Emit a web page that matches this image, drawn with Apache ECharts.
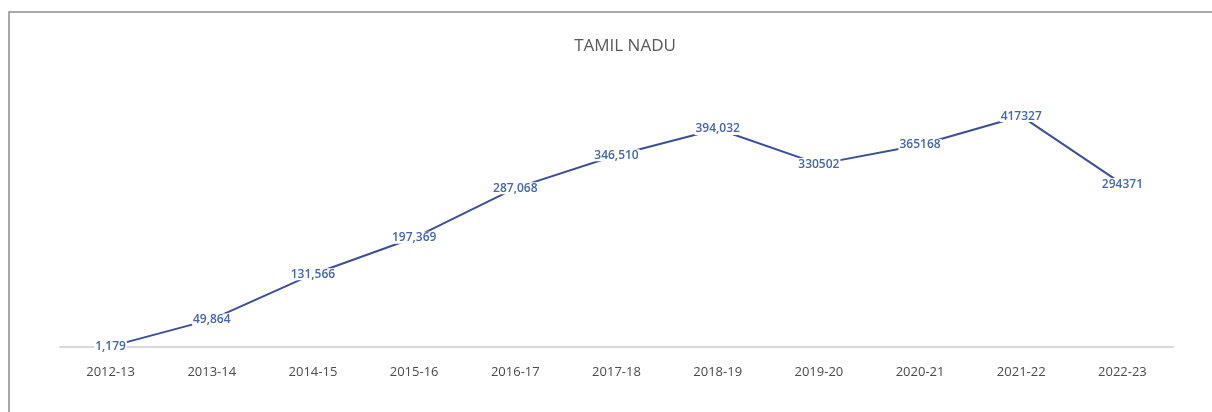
<!DOCTYPE html>
<html>
<head>
<meta charset="utf-8">
<script src="https://cdn.jsdelivr.net/npm/echarts@6/dist/echarts.min.js"></script>
<style>
html,body{margin:0;padding:0;background:#fff;}
#chart{width:1212px;height:412px;}
</style>
</head>
<body>
<div id="chart"></div>
<script>
const categories = ["2012-13","2013-14","2014-15","2015-16","2016-17","2017-18","2018-19","2019-20","2020-21","2021-22","2022-23"];
const values = [1179, 49864, 131566, 197369, 287068, 346510, 394032, 330502, 365168, 417327, 294371];
const labelTexts = ["1,179","49,864","131,566","197,369","287,068","346,510","394,032","330502","365168","417327","294371"];
const chartTitle = "TAMIL NADU";

const chart = echarts.init(document.getElementById('chart'), null, {renderer:'canvas'});
chart.setOption({
  backgroundColor: '#ffffff',
  animation: false,
  title: {
    text: chartTitle,
    left: 620, top: 33,
    textAlign: 'center',
    textStyle: {fontFamily: 'Open Sans', fontSize: 17, fontWeight: 'normal', color: '#595959'}
  },
  graphic: [{
    type: 'rect', silent: true, z: -1,
    shape: {x: 9, y: 12, width: 1230, height: 430},
    style: {fill: 'none', stroke: '#8c8c8c', lineWidth: 1.5}
  }],
  grid: {left: 60, right: 39, top: 98, bottom: 65},
  xAxis: {
    type: 'category',
    data: categories,
    boundaryGap: true,
    axisLine: {lineStyle: {color: '#d9d9d9', width: 2}},
    axisTick: {show: false},
    axisLabel: {margin: 19, fontFamily: 'Open Sans', fontSize: 13, color: '#4a4a4a'}
  },
  yAxis: {
    type: 'value', min: 0, max: 450000, interval: 50000,
    show: false,
    splitLine: {show: false}
  },
  series: [{
    type: 'line',
    data: values,
    symbol: 'circle',
    symbolSize: 1,
    showSymbol: true,
    itemStyle: {color: 'rgba(0,0,0,0)'},
    lineStyle: {color: '#3d4f94', width: 2},
    label: {
      show: true,
      position: 'inside',
      formatter: p => labelTexts[p.dataIndex],
      fontFamily: 'Open Sans', fontSize: 12, fontWeight: 600, color: '#4466ab',
      backgroundColor: '#ffffff', padding: [0, 1]
    }
  }]
});
</script>
</body>
</html>
